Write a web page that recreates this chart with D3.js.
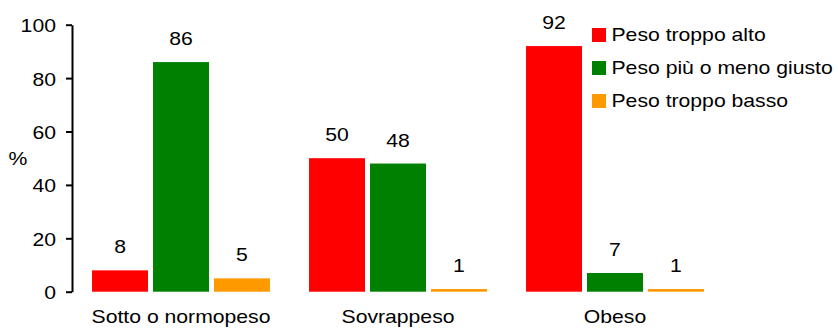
<!DOCTYPE html>
<html>
<head>
<meta charset="utf-8">
<script src="https://cdn.jsdelivr.net/npm/d3@7"></script>
<style>
  html, body { margin: 0; padding: 0; background: #fff; }
  svg { display: block; }
  text { font-family: "Liberation Sans", Arial, sans-serif; fill: #000; }
</style>
</head>
<body>
<svg id="chart" width="838" height="331"></svg>
<script>
// Categories and series
const categories = ["Sotto o normopeso", "Sovrappeso", "Obeso"];
const seriesNames = ["Peso troppo alto", "Peso più o meno giusto", "Peso troppo basso"];
const seriesColors = ["#ff0000", "#008000", "#ff9900"];
const pesoTroppoAlto = [8, 50, 92];
const pesoGiusto = [86, 48, 7];
const pesoTroppoBasso = [5, 1, 1];
const yTicks = [0, 20, 40, 60, 80, 100];

const seriesValues = [pesoTroppoAlto, pesoGiusto, pesoTroppoBasso];
const rows = categories.map((c, i) => ({
  category: c,
  values: seriesNames.map((s, j) => ({ series: s, color: seriesColors[j], value: seriesValues[j][i] }))
}));

const svg = d3.select("#chart");
const FONT = 19;
const SX = 1.115; // horizontal stretch of the lettering

const x0 = d3.scaleBand().domain(categories).range([72.5, 723.5]).paddingInner(0.18).paddingOuter(0.09);
const x1 = d3.scaleBand().domain(seriesNames).range([0, x0.bandwidth()]).paddingInner(0.082).paddingOuter(0);
const y = d3.scaleLinear().domain([0, 100]).range([291.7, 24.7]);

// Y axis
const yAxis = svg.append("g")
  .attr("transform", "translate(72,0)")
  .call(d3.axisLeft(y).tickValues(yTicks).tickSize(6).tickSizeOuter(0).tickPadding(8.4));
yAxis.select(".domain").attr("stroke", "#000").attr("stroke-width", 2);
yAxis.selectAll(".tick line").attr("stroke", "#000").attr("stroke-width", 2);
yAxis.selectAll(".tick text")
  .attr("font-size", FONT)
  .attr("font-family", "Liberation Sans, Arial, sans-serif")
  .attr("fill", "#000")
  .attr("dy", "0.37em")
  .attr("transform", `scale(${SX},1)`);

// "%" axis title
svg.append("text")
  .attr("transform", `translate(18,165) scale(${SX},1)`)
  .attr("text-anchor", "middle")
  .attr("font-size", FONT)
  .text("%");

// Bars
const groups = svg.append("g").selectAll("g")
  .data(rows)
  .join("g")
  .attr("transform", d => `translate(${x0(d.category)},0)`);

groups.selectAll("rect")
  .data(d => d.values)
  .join("rect")
  .attr("x", d => x1(d.series))
  .attr("y", d => y(d.value))
  .attr("width", x1.bandwidth())
  .attr("height", d => y(0) - y(d.value))
  .attr("fill", d => d.color);

// Value labels
groups.selectAll("text.val")
  .data(d => d.values)
  .join("text")
  .attr("class", "val")
  .attr("text-anchor", "middle")
  .attr("font-size", FONT)
  .attr("transform", d => `translate(${x1(d.series) + x1.bandwidth() / 2},${y(d.value) - 17}) scale(${SX},1)`)
  .text(d => d.value);

// Category labels
svg.append("g").selectAll("text")
  .data(categories)
  .join("text")
  .attr("text-anchor", "middle")
  .attr("font-size", FONT)
  .attr("transform", d => `translate(${x0(d) + x0.bandwidth() / 2},323) scale(${SX},1)`)
  .text(d => d);

// Legend
const legend = svg.append("g").selectAll("g")
  .data(seriesNames)
  .join("g")
  .attr("transform", (d, i) => `translate(592,${28 + i * 33})`);
legend.append("rect")
  .attr("width", 14)
  .attr("height", 14)
  .attr("fill", (d, i) => seriesColors[i]);
legend.append("text")
  .attr("font-size", FONT)
  .attr("transform", `translate(19.5,13.3) scale(${SX},1)`)
  .text(d => d);
</script>
</body>
</html>
